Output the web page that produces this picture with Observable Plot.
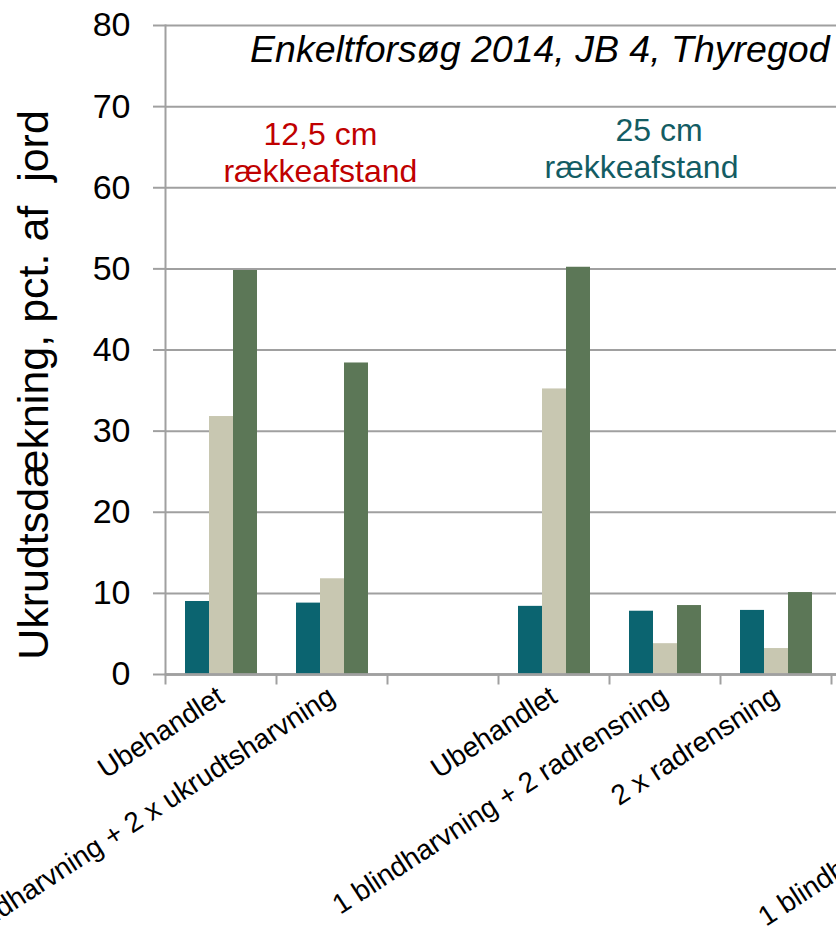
<!DOCTYPE html>
<html>
<head>
<meta charset="utf-8">
<script src="https://cdn.jsdelivr.net/npm/d3@7"></script>
<script src="https://cdn.jsdelivr.net/npm/@observablehq/plot@0.6"></script>
<style>
  html, body { margin: 0; padding: 0; background: white; overflow: hidden; }
  #chart svg { overflow: hidden; display: block; }
</style>
</head>
<body>
<div id="chart"></div>
<script>
// ---- data ----
const categoryLabels = [
  "Ubehandlet",
  "1 blindharvning + 2 x ukrudtsharvning",
  "",
  "Ubehandlet",
  "1 blindharvning + 2 radrensning",
  "2 x radrensning",
  "",
  "",
  "1 blindharvning + 2 x radrensning"
];
const seriesNames = ["Serie 1", "Serie 2", "Serie 3"];
const serie1 = [9.0, 8.8, null, 8.4, 7.8, 7.9, null, null, null];
const serie2 = [31.8, 11.8, null, 35.2, 3.8, 3.2, null, null, null];
const serie3 = [49.8, 38.4, null, 50.2, 8.5, 10.1, null, null, null];
const seriesColors = ["#0b6470", "#c8c7b1", "#5c7757"];
const yTicks = [0, 10, 20, 30, 40, 50, 60, 70, 80];
const yLabel = "Ukrudtsdækning, pct. af  jord";
const title = "Enkeltforsøg 2014, JB 4, Thyregod";
const noteLeft = "12,5 cm\nrækkeafstand";
const noteRight1 = "25 cm";
const noteRight2 = "rækkeafstand";

// ---- table ----
const catIdx = categoryLabels.map((_, i) => i);
const allSeries = [serie1, serie2, serie3];
const rows = [];
catIdx.forEach(i => {
  seriesNames.forEach((s, j) => rows.push({cat: i, series: s, value: allSeries[j][i]}));
});

const gray = "#a0a0a0";
const font = "'Liberation Sans', Arial, sans-serif";
const step = 111.1;

const chart = Plot.plot({
  width: 836,
  height: 944,
  marginTop: 25,
  marginBottom: 270,
  marginLeft: 165,
  marginRight: 0,
  style: {fontFamily: font, background: "white", overflow: "hidden"},
  fx: {domain: catIdx, range: [165, 165 + step * catIdx.length], padding: 0, label: null},
  x: {domain: seriesNames, paddingInner: 0, paddingOuter: 0.75, axis: null},
  y: {domain: [0, 80], label: null},
  color: {domain: seriesNames, range: seriesColors},
  marks: [
    Plot.gridY(yTicks, {stroke: gray, strokeOpacity: 1, strokeWidth: 2}),
    Plot.barY(rows, {fx: "cat", x: "series", y: "value", fill: "series"}),
    Plot.ruleY(rows, {fx: "cat", y: 0, stroke: gray, strokeWidth: 2}),
    Plot.frame({anchor: "left", facetAnchor: "left", stroke: gray, strokeWidth: 2}),
    Plot.frame({anchor: "left", stroke: gray, strokeWidth: 2, insetTop: 649, insetBottom: -9}),
    Plot.axisY(yTicks, {
      facetAnchor: "left",
      label: null, tickSize: 12, tickPadding: 23, fontSize: 34,
      stroke: gray, strokeWidth: 2, fill: "black"
    }),
    Plot.axisFx({
      anchor: "bottom", label: null, tickSize: 0, tickPadding: 19, tickRotate: -33,
      fontSize: 28, fill: "black", tickFormat: i => categoryLabels[i]
    }),
    Plot.text([{cat: 0, t: yLabel}], {
      fx: "cat", text: "t", frameAnchor: "left", rotate: -90,
      textAnchor: "middle", fontSize: 43, dx: -131, dy: 35, fill: "black"
    }),
    Plot.text([{cat: 5, t: title}], {
      fx: "cat", text: "t", frameAnchor: "top-right", textAnchor: "end", lineAnchor: "top",
      fontSize: 37.5, fontStyle: "italic", dx: -2, dy: 10, fill: "black"
    }),
    Plot.text([{cat: 1, t: noteLeft}], {
      fx: "cat", text: "t", frameAnchor: "top", textAnchor: "middle", lineAnchor: "top",
      fontSize: 32, lineHeight: 1.16, dx: -11.6, dy: 93, fill: "#c00000"
    }),
    Plot.text([{cat: 4, t: noteRight1}], {
      fx: "cat", text: "t", frameAnchor: "top", textAnchor: "middle", lineAnchor: "top",
      fontSize: 32, dx: -6, dy: 93, fill: "#135c63"
    }),
    Plot.text([{cat: 4, t: noteRight2}], {
      fx: "cat", text: "t", frameAnchor: "top", textAnchor: "middle", lineAnchor: "top",
      fontSize: 32, dx: -23.5, dy: 130, fill: "#135c63"
    })
  ]
});
document.getElementById("chart").append(chart);
</script>
</body>
</html>
